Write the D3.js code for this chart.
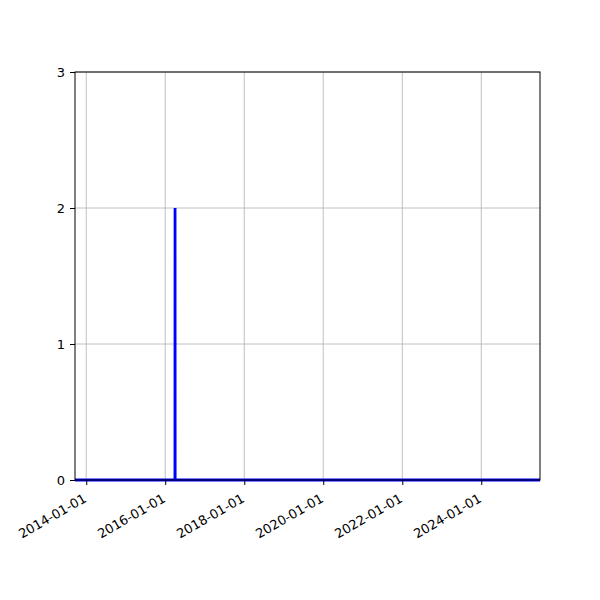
<!DOCTYPE html>
<html>
<head>
<meta charset="utf-8">
<script src="https://cdn.jsdelivr.net/npm/d3@7"></script>
<style>
  body { margin: 0; background: #fff; }
  svg { font-family: "DejaVu Sans", sans-serif; }
</style>
</head>
<body>
<svg id="chart" width="600" height="600"></svg>
<script>
// series: zero everywhere except one spike
const dates = ["2013-09-19", "2016-03-31", "2016-04-01", "2016-04-02", "2025-06-27"];
const values = [0, 0, 2, 0, 0];
const yTicks = [0, 1, 2, 3];
const xTickDates = ["2014-01-01", "2016-01-01", "2018-01-01", "2020-01-01", "2022-01-01", "2024-01-01"];

const width = 600;
const height = 600;
const margin = { top: 72, right: 60, bottom: 120, left: 75 };

const parse = d3.timeParse("%Y-%m-%d");
const data = dates.map((d, i) => ({ date: parse(d), value: values[i] }));

const svg = d3.select("#chart");

const x = d3.scaleTime()
    .domain([parse("2013-09-19"), parse("2025-06-27")])
    .range([margin.left, width - margin.right]);

const y = d3.scaleLinear()
    .domain([0, 3])
    .range([height - margin.bottom, margin.top]);

// grid
svg.append("g")
    .selectAll("line")
    .data(xTickDates.map(parse))
    .enter()
    .append("line")
    .attr("x1", d => x(d))
    .attr("x2", d => x(d))
    .attr("y1", margin.top)
    .attr("y2", height - margin.bottom)
    .attr("stroke", "#b0b0b0")
    .attr("stroke-width", 0.8);

svg.append("g")
    .selectAll("line")
    .data(yTicks)
    .enter()
    .append("line")
    .attr("x1", margin.left)
    .attr("x2", width - margin.right)
    .attr("y1", d => y(d))
    .attr("y2", d => y(d))
    .attr("stroke", "#b0b0b0")
    .attr("stroke-width", 0.8);

// the series
const line = d3.line()
    .x(d => x(d.date))
    .y(d => y(d.value));

svg.append("path")
    .datum(data)
    .attr("fill", "none")
    .attr("stroke", "#0000ff")
    .attr("stroke-width", 2.8)
    .attr("d", line);

// frame
svg.append("rect")
    .attr("x", margin.left)
    .attr("y", margin.top)
    .attr("width", width - margin.left - margin.right)
    .attr("height", height - margin.top - margin.bottom)
    .attr("fill", "none")
    .attr("stroke", "#000")
    .attr("stroke-width", 1);

// x axis
const xAxis = svg.append("g")
    .attr("transform", `translate(0, ${height - margin.bottom})`)
    .call(d3.axisBottom(x)
        .tickValues(xTickDates.map(parse))
        .tickFormat(d3.timeFormat("%Y-%m-%d"))
        .tickSize(5)
        .tickPadding(5));

xAxis.select(".domain").remove();
xAxis.selectAll(".tick line").attr("stroke", "#000").attr("stroke-width", 1);
xAxis.selectAll("text")
    .style("text-anchor", "end")
    .attr("font-size", "13px")
    .attr("font-family", "DejaVu Sans")
    .attr("fill", "#000")
    .attr("y", 9)
    .attr("dy", "0.71em")
    .attr("transform", "translate(-4, 4) rotate(-30, 0, 9)");

// y axis
const yAxis = svg.append("g")
    .attr("transform", `translate(${margin.left}, 0)`)
    .call(d3.axisLeft(y)
        .tickValues(yTicks)
        .tickFormat(d3.format("d"))
        .tickSize(5)
        .tickPadding(5));

yAxis.select(".domain").remove();
yAxis.selectAll(".tick line").attr("stroke", "#000").attr("stroke-width", 1);
yAxis.selectAll("text")
    .attr("font-size", "13px")
    .attr("font-family", "DejaVu Sans")
    .attr("fill", "#000");
</script>
</body>
</html>
